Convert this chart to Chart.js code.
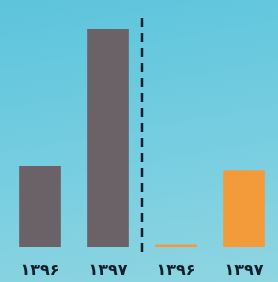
<!DOCTYPE html>
<html>
<head>
<meta charset="utf-8">
<script src="https://cdn.jsdelivr.net/npm/chart.js@4"></script>
<style>
    html, body { margin: 0; padding: 0; }
    body {
        width: 278px; height: 282px; overflow: hidden;
        background: linear-gradient(170deg, #5cc4dc 0%, #72cce0 45%, #8fd5e2 100%);
    }
    #wrap { position: relative; width: 278px; height: 282px; }
</style>
</head>
<body>
<div id="wrap"><canvas id="chart" width="278" height="282"></canvas></div>
<script>
// Data
const years = ['۱۳۹۶', '۱۳۹۷', '۱۳۹۶', '۱۳۹۷'];
const values = [37, 100, 1, 35];
const barColors = ['#6a6266', '#6a6266', '#f39a3a', '#f39a3a'];

// dashed separator between the two pairs
const separator = {
    id: 'separator',
    afterDatasetsDraw(chart) {
        const x = chart.scales.x;
        const px = (x.getPixelForValue(1) + x.getPixelForValue(2)) / 2;
        const ctx = chart.ctx;
        ctx.save();
        ctx.strokeStyle = '#14202c';
        ctx.lineWidth = 2.5;
        ctx.setLineDash([9, 6]);
        ctx.beginPath();
        ctx.moveTo(px, 18);
        ctx.lineTo(px, 253);
        ctx.stroke();
        ctx.restore();
    }
};

new Chart(document.getElementById('chart'), {
    type: 'bar',
    data: {
        labels: years,
        datasets: [{
            data: values,
            backgroundColor: barColors,
            barThickness: 41,
            minBarLength: 2
        }]
    },
    options: {
        responsive: false,
        animation: false,
        layout: { padding: { top: 29, left: 6, right: 0, bottom: 0 } },
        plugins: { legend: { display: false }, tooltip: { enabled: false } },
        scales: {
            x: {
                grid: { display: false },
                border: { display: false },
                afterFit(scale) { scale.height = 35; },
                ticks: {
                    color: '#14202c',
                    padding: 6,
                    font: { family: 'DejaVu Sans', size: 16, weight: 'bold' }
                }
            },
            y: {
                display: false,
                min: 0,
                max: 100
            }
        }
    },
    plugins: [separator]
});
</script>
</body>
</html>
